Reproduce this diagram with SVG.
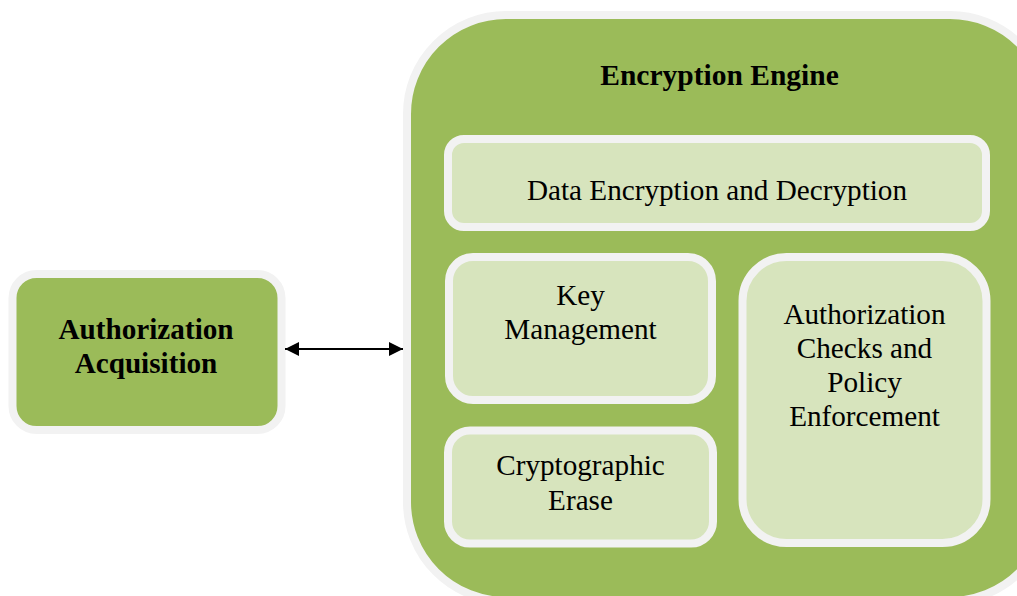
<svg xmlns="http://www.w3.org/2000/svg" width="1017" height="596" viewBox="0 0 1017 596">
  <defs>
    <style>
      .outer { fill: #9bbb59; stroke: #f2f2f2; stroke-width: 8; }
      .inner { fill: #d7e4bd; stroke: #f2f2f2; stroke-width: 8; }
      .title { font-family: "Liberation Serif", "Times New Roman", serif; font-weight: bold; fill: #000; text-anchor: middle; }
      .label { font-family: "Liberation Serif", "Times New Roman", serif; font-size: 29.2px; fill: #000; text-anchor: middle; }
      .conn { stroke: #000; stroke-width: 2.2; fill: none; }
    </style>
    <marker id="arrow" markerUnits="userSpaceOnUse" markerWidth="14" markerHeight="14" refX="14" refY="7" orient="auto-start-reverse">
      <path d="M0,0 L14,7 L0,14 z" fill="#000"/>
    </marker>
  </defs>

  <rect width="1017" height="596" fill="#ffffff"/>

  <g id="encryption-engine">
    <rect class="outer" x="407" y="15" width="642" height="586" rx="99" ry="99"/>
    <text class="title" x="719.5" y="85" font-size="29.5">Encryption Engine</text>
  </g>

  <g id="data-encryption">
    <rect class="inner" x="448" y="139" width="538" height="88" rx="16" ry="16"/>
    <text class="label" x="717" y="200">Data Encryption and Decryption</text>
  </g>

  <g id="key-management">
    <rect class="inner" x="449" y="257" width="263" height="143" rx="24" ry="24"/>
    <text class="label" x="580.5" y="305">Key</text>
    <text class="label" x="580.5" y="339">Management</text>
  </g>

  <g id="cryptographic-erase">
    <rect class="inner" x="448" y="430.5" width="265" height="113" rx="22" ry="22"/>
    <text class="label" x="580.5" y="475">Cryptographic</text>
    <text class="label" x="580.5" y="510">Erase</text>
  </g>

  <g id="authorization-checks">
    <rect class="inner" x="742.5" y="257" width="244" height="286" rx="44" ry="44"/>
    <text class="label" x="864.5" y="324">Authorization</text>
    <text class="label" x="864.5" y="358">Checks and</text>
    <text class="label" x="864.5" y="392">Policy</text>
    <text class="label" x="864.5" y="426">Enforcement</text>
  </g>

  <g id="authorization-acquisition">
    <rect class="outer" x="12.5" y="274" width="269" height="156" rx="24" ry="24"/>
    <text class="title" x="146" y="339" font-size="29.2">Authorization</text>
    <text class="title" x="146" y="373" font-size="29.2">Acquisition</text>
  </g>

  <g id="connectors">
    <line class="conn" x1="285" y1="349" x2="403" y2="349" marker-start="url(#arrow)" marker-end="url(#arrow)"/>
  </g>
</svg>
